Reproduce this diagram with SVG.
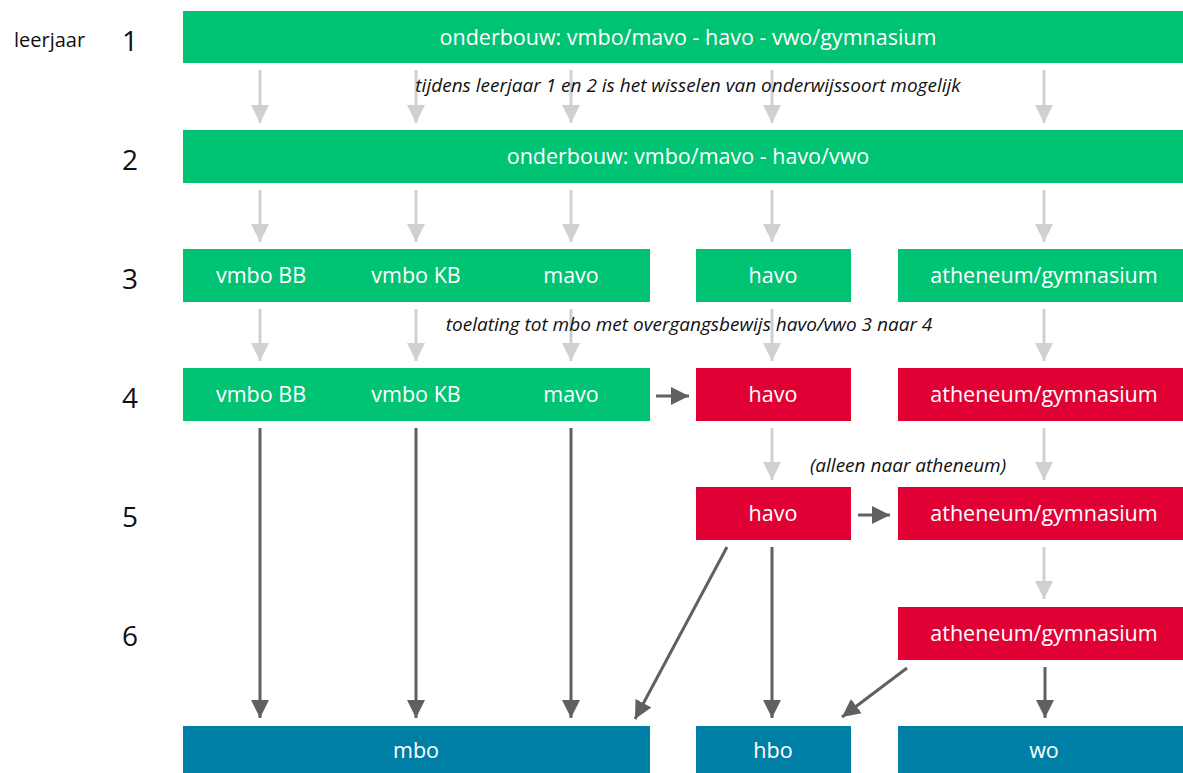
<svg xmlns="http://www.w3.org/2000/svg" width="1183" height="773" viewBox="0 0 1183 773">
<defs>
<style>
.g{fill:#00c374}.r{fill:#e00034}.b{fill:#007fa6}
.t{font-family:"Open Sans","Liberation Sans",Arial,sans-serif;font-size:21.5px;fill:#fff;text-anchor:middle}
.n{font-family:"Open Sans","Liberation Sans",Arial,sans-serif;font-size:28px;fill:#111;text-anchor:middle}
.i{font-family:"Open Sans","Liberation Sans",Arial,sans-serif;font-size:19px;font-style:italic;fill:#111;text-anchor:middle}
.la{stroke:#d0d0d4;stroke-width:3;fill:none;marker-end:url(#al)}
.da{stroke:#606060;stroke-width:3;fill:none;marker-end:url(#ad)}
</style>
<marker id="al" viewBox="0 0 10 10" refX="10" refY="5" markerUnits="userSpaceOnUse" markerWidth="18" markerHeight="18" orient="auto"><path d="M0,0 L10,5 L0,10 Z" fill="#d0d0d4"/></marker>
<marker id="ad" viewBox="0 0 10 10" refX="10" refY="5" markerUnits="userSpaceOnUse" markerWidth="18" markerHeight="18" orient="auto"><path d="M0,0 L10,5 L0,10 Z" fill="#606060"/></marker>
</defs>
<rect width="1183" height="773" fill="#fff"/>
<g id="labels">
<text x="14" y="47" font-family="Open Sans, Liberation Sans, Arial, sans-serif" font-size="20" fill="#111">leerjaar</text>
<text class="n" x="130" y="51">1</text>
<text class="n" x="130" y="170">2</text>
<text class="n" x="130" y="289">3</text>
<text class="n" x="130" y="408">4</text>
<text class="n" x="130" y="527">5</text>
<text class="n" x="130" y="646">6</text>
</g>
<g id="connectors">
<path class="la" d="M260,70V123"/><path class="la" d="M416,70V123"/><path class="la" d="M571,70V123"/><path class="la" d="M772,70V123"/><path class="la" d="M1044,70V123"/>
<path class="la" d="M260,190V242"/><path class="la" d="M416,190V242"/><path class="la" d="M571,190V242"/><path class="la" d="M772,190V242"/><path class="la" d="M1044,190V242"/>
<path class="la" d="M260,309V361"/><path class="la" d="M416,309V361"/><path class="la" d="M571,309V361"/><path class="la" d="M772,309V361"/><path class="la" d="M1044,309V361"/>
<path class="la" d="M772,428V480"/><path class="la" d="M1044,428V480"/>
<path class="la" d="M1044,547V599"/>
<path class="da" d="M260,428V718"/><path class="da" d="M416,428V718"/><path class="da" d="M571,428V718"/>
<path class="da" d="M772,547V718"/>
<path class="da" d="M727,547L635,719"/>
<path class="da" d="M907,668L842,717"/>
<path class="da" d="M1045,667V718"/>
<path class="da" d="M656,396H689"/>
<path class="da" d="M858,515H890"/>
</g>
<g id="notes">
<text class="i" x="688" y="92">tijdens leerjaar 1 en 2 is het wisselen van onderwijssoort mogelijk</text>
<text class="i" x="689" y="331">toelating tot mbo met overgangsbewijs havo/vwo 3 naar 4</text>
<text class="i" x="908" y="472">(alleen naar atheneum)</text>
</g>
<g id="row1"><rect class="g" x="183" y="11" width="1000" height="52"/><text class="t" x="688" y="45">onderbouw: vmbo/mavo - havo - vwo/gymnasium</text></g>
<g id="row2"><rect class="g" x="183" y="130" width="1000" height="53"/><text class="t" x="688" y="164">onderbouw: vmbo/mavo - havo/vwo</text></g>
<g id="row3-vmbo"><rect class="g" x="183" y="249" width="467" height="53"/><text class="t" x="261" y="283">vmbo BB</text><text class="t" x="416" y="283">vmbo KB</text><text class="t" x="571" y="283">mavo</text></g>
<g id="row3-havo"><rect class="g" x="696" y="249" width="155" height="53"/><text class="t" x="773" y="283">havo</text></g>
<g id="row3-vwo"><rect class="g" x="898" y="249" width="285" height="53"/><text class="t" x="1044" y="283">atheneum/gymnasium</text></g>
<g id="row4-vmbo"><rect class="g" x="183" y="368" width="467" height="53"/><text class="t" x="261" y="402">vmbo BB</text><text class="t" x="416" y="402">vmbo KB</text><text class="t" x="571" y="402">mavo</text></g>
<g id="row4-havo"><rect class="r" x="696" y="368" width="155" height="53"/><text class="t" x="773" y="402">havo</text></g>
<g id="row4-vwo"><rect class="r" x="898" y="368" width="285" height="53"/><text class="t" x="1044" y="402">atheneum/gymnasium</text></g>
<g id="row5-havo"><rect class="r" x="696" y="487" width="155" height="53"/><text class="t" x="773" y="521">havo</text></g>
<g id="row5-vwo"><rect class="r" x="898" y="487" width="285" height="53"/><text class="t" x="1044" y="521">atheneum/gymnasium</text></g>
<g id="row6-vwo"><rect class="r" x="898" y="607" width="285" height="53"/><text class="t" x="1044" y="641">atheneum/gymnasium</text></g>
<g id="mbo"><rect class="b" x="183" y="726" width="467" height="47"/><text class="t" x="416" y="758">mbo</text></g>
<g id="hbo"><rect class="b" x="696" y="726" width="155" height="47"/><text class="t" x="773" y="758">hbo</text></g>
<g id="wo"><rect class="b" x="898" y="726" width="285" height="47"/><text class="t" x="1044" y="758">wo</text></g>
</svg>
